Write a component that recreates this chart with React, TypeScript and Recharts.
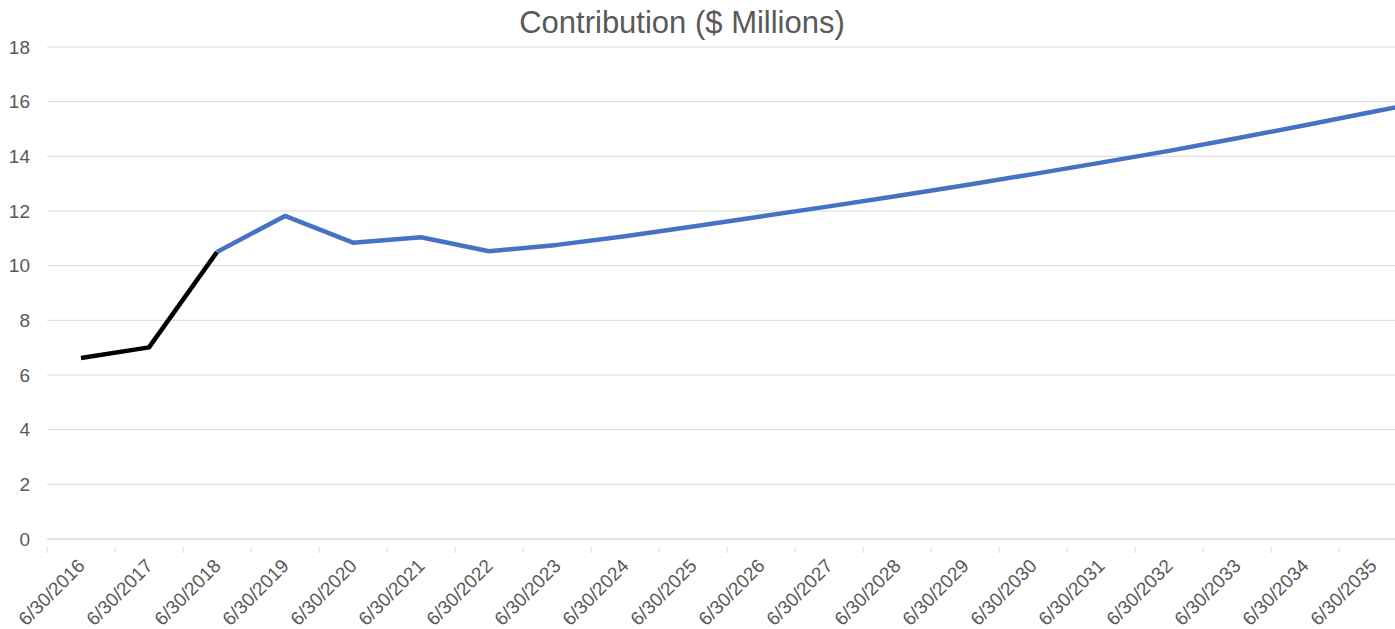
import React from 'react'
import { CartesianGrid, Line, LineChart, XAxis, YAxis } from 'recharts'

// fiscal year ends; the 2036 point sits past the cropped right edge
const periods = [
  '6/30/2016', '6/30/2017', '6/30/2018', '6/30/2019', '6/30/2020', '6/30/2021', '6/30/2022',
  '6/30/2023', '6/30/2024', '6/30/2025', '6/30/2026', '6/30/2027', '6/30/2028', '6/30/2029',
  '6/30/2030', '6/30/2031', '6/30/2032', '6/30/2033', '6/30/2034', '6/30/2035', '6/30/2036'
]
const hiddenLabels = ['6/30/2036']

const actual: (number | null)[] = [
  6.62, 7.01, 10.5, null, null, null, null, null, null, null, null,
  null, null, null, null, null, null, null, null, null, null
]

const projected: (number | null)[] = [
  null, null, 10.5, 11.82, 10.84, 11.04, 10.53, 10.76, 11.08, 11.43, 11.8,
  12.17, 12.55, 12.94, 13.35, 13.77, 14.2, 14.66, 15.14, 15.63, 16.12
]

const yTicks = [0, 2, 4, 6, 8, 10, 12, 14, 16, 18]

const data = periods.map((p, i) => ({ period: p, actual: actual[i], projected: projected[i] }))

const FONT = '"Liberation Sans", Arial, sans-serif'
const TEXT = '#595959'
const GRID = '#d9d9d9'

function XTick(props: any) {
  const { x, y, payload } = props
  const half = payload && payload.offset > 0 ? payload.offset : 34
  return (
    <g>
      <line x1={x - half} y1={y} x2={x - half} y2={y + 6} stroke={GRID} />
      {!hiddenLabels.includes(payload.value) && (
        <text
          x={x + 5}
          y={y + 20}
          transform={`rotate(-45, ${x + 5}, ${y + 20})`}
          textAnchor="end"
          fill={TEXT}
          fontSize={19}
          fontFamily={FONT}
        >
          {payload.value}
        </text>
      )}
    </g>
  )
}

function YTick(props: any) {
  const { y, payload } = props
  return (
    <text x={30} y={y} textAnchor="end" dominantBaseline="central" fill={TEXT} fontSize={19} fontFamily={FONT}>
      {payload.value}
    </text>
  )
}

export default function App() {
  return (
    <div
      style={{
        position: 'fixed',
        left: 0,
        top: 0,
        width: 1395,
        height: 629,
        overflow: 'hidden',
        background: '#fff'
      }}
    >
      <div
        style={{
          position: 'absolute',
          left: 0,
          top: 7,
          width: 1364,
          textAlign: 'center',
          fontFamily: FONT,
          fontSize: 31,
          lineHeight: '31px',
          color: TEXT
        }}
      >
        Contribution ($ Millions)
      </div>
      <LineChart width={1475} height={629} data={data} margin={{ top: 47, right: 0, bottom: 0, left: 0 }}>
        <CartesianGrid vertical={false} stroke={GRID} strokeWidth={1} />
        <XAxis
          dataKey="period"
          scale="band"
          height={90}
          interval={0}
          tickLine={false}
          axisLine={{ stroke: GRID }}
          tick={<XTick />}
        />
        <YAxis
          width={47}
          domain={[0, 18]}
          ticks={yTicks}
          axisLine={false}
          tickLine={false}
          tick={<YTick />}
        />
        <Line
          dataKey="actual"
          stroke="#000000"
          strokeWidth={4.5}
          dot={false}
          connectNulls={false}
          isAnimationActive={false}
          strokeLinejoin="round"
        />
        <Line
          dataKey="projected"
          stroke="#4472c4"
          strokeWidth={4.5}
          dot={false}
          connectNulls={false}
          isAnimationActive={false}
          strokeLinejoin="round"
        />
      </LineChart>
    </div>
  )
}
